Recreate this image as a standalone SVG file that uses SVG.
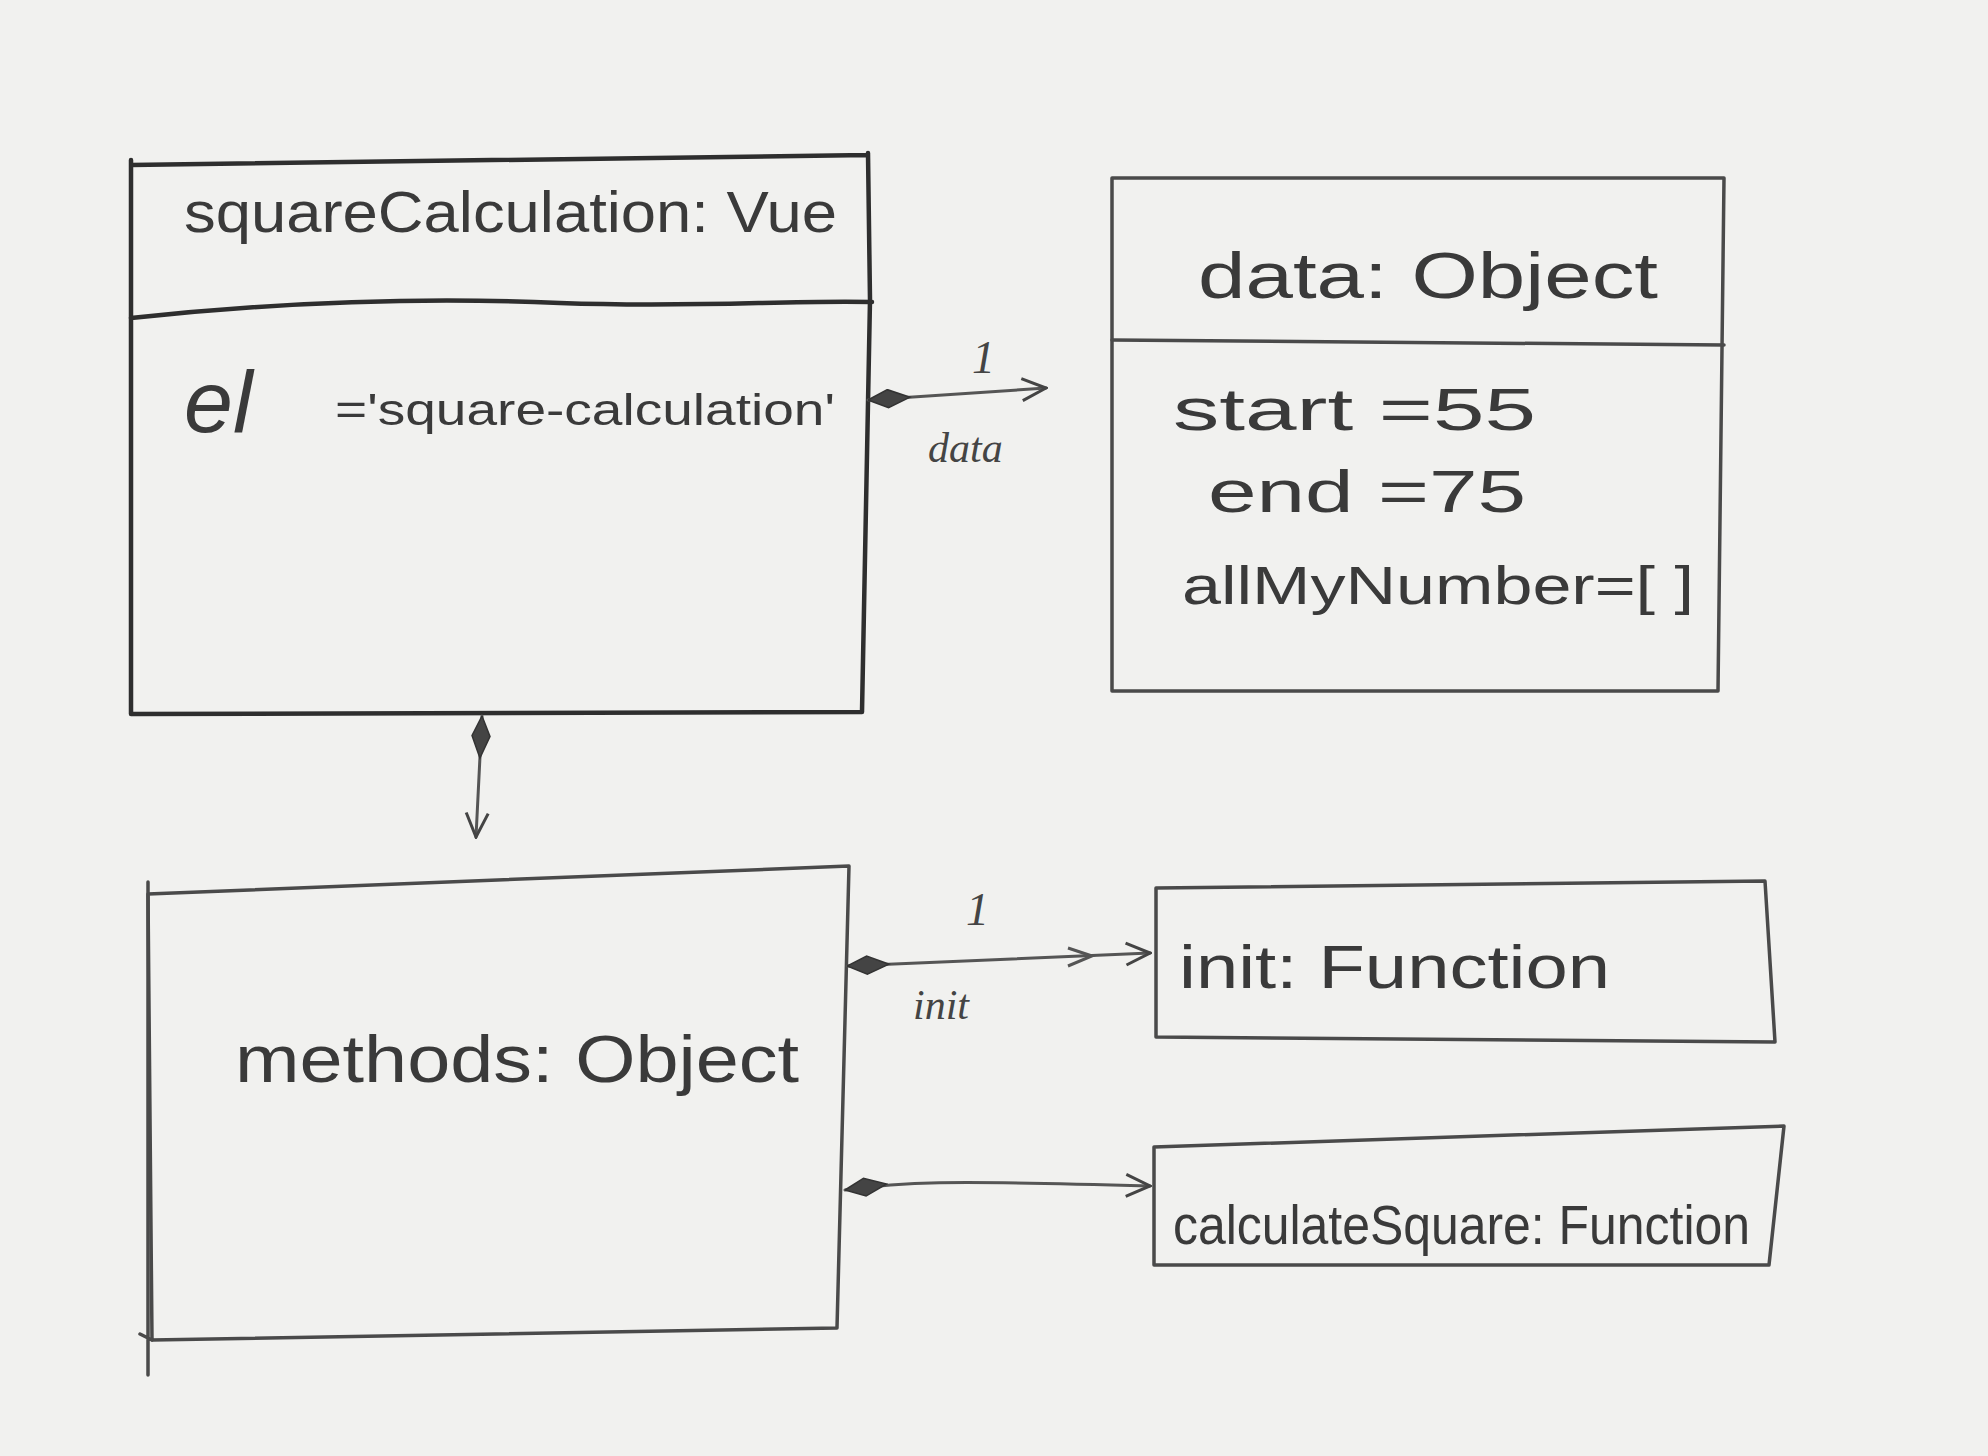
<svg xmlns="http://www.w3.org/2000/svg" width="1988" height="1456" viewBox="0 0 1988 1456">
<defs>
<style>
.box{fill:none;stroke:#4a4a4a;stroke-width:3.5;stroke-linejoin:round;stroke-linecap:round}
.dark{stroke:#2e2e2e;stroke-width:4.5}
.conn{fill:none;stroke:#555;stroke-width:3;stroke-linecap:round}
.t{font-family:"Liberation Sans","DejaVu Sans",sans-serif;fill:#3a3a3a}
.lbl{font-family:"Liberation Serif","DejaVu Serif",serif;font-style:italic;fill:#444}
</style>
<marker id="dia" viewBox="0 0 44 20" refX="0" refY="10" markerWidth="44" markerHeight="20" markerUnits="userSpaceOnUse" orient="auto">
<path d="M0,10 L20,1 L42,10 L20,19 Z" fill="#444" stroke="#333" stroke-width="1.5"/>
</marker>
<marker id="arr" viewBox="0 0 30 26" refX="28" refY="13" markerWidth="30" markerHeight="26" markerUnits="userSpaceOnUse" orient="auto">
<path d="M4,2 L28,13 L4,24" fill="none" stroke="#444" stroke-width="3"/>
</marker>
</defs>
<rect width="1988" height="1456" fill="#f1f1ef"/>

<g id="node-squareCalculation">
<path class="box dark" d="M131,165 L868,155 M868,153 L870,300 L862,712 M131,160 L131,714 L862,712"/>
<path class="box dark" d="M131,318 C300,300 450,298 560,303 C700,308 780,300 872,302"/>
<text class="t" x="184" y="232" font-size="58" textLength="653" lengthAdjust="spacingAndGlyphs">squareCalculation: Vue</text>
<text class="t" x="184" y="432" font-size="88" font-style="italic">el</text>
<text class="t" x="335" y="425" font-size="44" textLength="500" lengthAdjust="spacingAndGlyphs">='square-calculation'</text>
</g>

<g id="node-data">
<path class="box" d="M1112,178 L1724,178 L1718,691 L1112,691 Z"/>
<path class="box" d="M1112,340 L1724,345"/>
<text class="t" x="1198" y="298" font-size="64" textLength="460" lengthAdjust="spacingAndGlyphs">data: Object</text>
<text class="t" x="1173" y="430" font-size="60" fill="#555" textLength="363" lengthAdjust="spacingAndGlyphs">start =55</text>
<text class="t" x="1208" y="512" font-size="60" textLength="318" lengthAdjust="spacingAndGlyphs">end =75</text>
<text class="t" x="1182" y="604" font-size="54" textLength="512" lengthAdjust="spacingAndGlyphs">allMyNumber=[ ]</text>
</g>

<g id="node-methods">
<path class="box" d="M148,894 L849,866 L837,1328 L152,1340 Z"/>
<path class="box" d="M148,882 L148,1375 M140,1334 L152,1340"/>
<text class="t" x="235" y="1082" font-size="66" textLength="564" lengthAdjust="spacingAndGlyphs">methods: Object</text>
</g>

<g id="node-init">
<path class="box" d="M1156,888 L1765,881 L1775,1042 L1156,1037 Z"/>
<text class="t" x="1179" y="988" font-size="62" textLength="431" lengthAdjust="spacingAndGlyphs">init:  Function</text>
</g>

<g id="node-calculateSquare">
<path class="box" d="M1154,1147 L1784,1126 L1769,1265 L1154,1265 Z"/>
<text class="t" x="1173" y="1244" font-size="56" textLength="577" lengthAdjust="spacingAndGlyphs">calculateSquare: Function</text>
</g>

<g id="connectors">
<path class="conn" d="M868,400 L1046,388" marker-start="url(#dia)" marker-end="url(#arr)"/>
<text class="lbl" x="972" y="373" font-size="46">1</text>
<text class="lbl" x="928" y="462" font-size="42">data</text>

<path class="conn" d="M482,716 L476,837" marker-start="url(#dia)" marker-end="url(#arr)"/>

<path class="conn" d="M847,966 L1150,953" marker-start="url(#dia)" marker-end="url(#arr)"/>
<path d="M1068,948 L1092,956 L1068,966" fill="none" stroke="#555" stroke-width="3"/>
<text class="lbl" x="966" y="925" font-size="46">1</text>
<text class="lbl" x="913" y="1019" font-size="42">init</text>

<path class="conn" d="M845,1190 C900,1182 940,1180 1150,1186" marker-start="url(#dia)" marker-end="url(#arr)"/>
</g>
</svg>
